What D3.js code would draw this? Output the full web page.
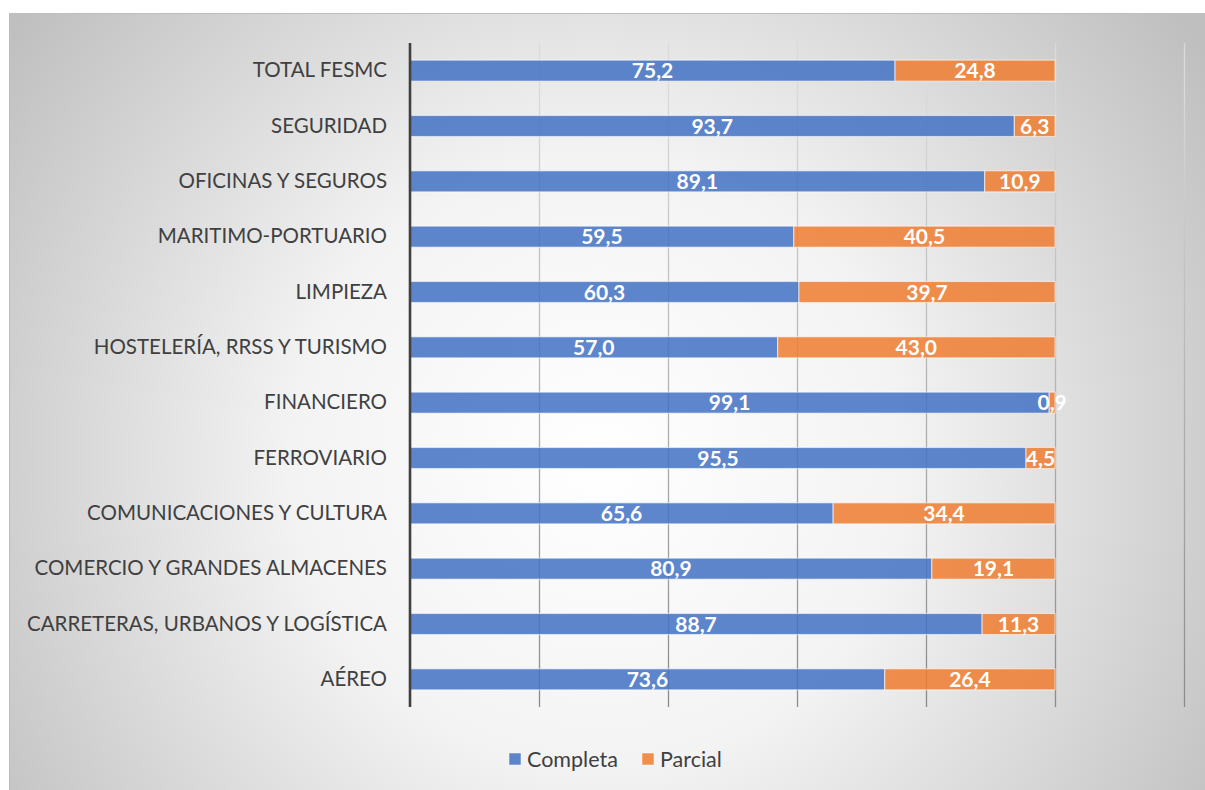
<!DOCTYPE html>
<html>
<head>
<meta charset="utf-8">
<script src="https://cdn.jsdelivr.net/npm/d3@7"></script>
<style>
	body { margin: 0; background: #fff; }
	svg { display: block; }
	text { font-family: Lato, "Open Sans", sans-serif; }
</style>
</head>
<body>
<svg width="1205" height="790"></svg>
<script>
// categories, top to bottom
var categories = [
	'TOTAL FESMC',
	'SEGURIDAD',
	'OFICINAS Y SEGUROS',
	'MARITIMO-PORTUARIO',
	'LIMPIEZA',
	'HOSTELERÍA, RRSS Y TURISMO',
	'FINANCIERO',
	'FERROVIARIO',
	'COMUNICACIONES Y CULTURA',
	'COMERCIO Y GRANDES ALMACENES',
	'CARRETERAS, URBANOS Y LOGÍSTICA',
	'AÉREO'
];
var completa = [75.2, 93.7, 89.1, 59.5, 60.3, 57.0, 99.1, 95.5, 65.6, 80.9, 88.7, 73.6];
var parcial  = [24.8, 6.3, 10.9, 40.5, 39.7, 43.0, 0.9, 4.5, 34.4, 19.1, 11.3, 26.4];
var series_names = ['Completa', 'Parcial'];
var x_ticks = [0, 20, 40, 60, 80, 100, 120];

var colors = { Completa: '#4472C4', Parcial: '#ED7D31' };

var svg = d3.select('svg');
var defs = svg.append('defs');

// background radial gradient (white center, grey edges)
var bg = defs.append('radialGradient')
	.attr('id', 'bg-grad')
	.attr('gradientUnits', 'userSpaceOnUse')
	.attr('cx', 600).attr('cy', 460).attr('r', 730);
bg.append('stop').attr('offset', 0).attr('stop-color', '#ffffff');
bg.append('stop').attr('offset', 0.42).attr('stop-color', '#f3f3f3');
bg.append('stop').attr('offset', 1).attr('stop-color', '#bfbfbf');

// gridline gradient, light at top, dark at bottom
var gg = defs.append('linearGradient')
	.attr('id', 'grid-grad')
	.attr('gradientUnits', 'userSpaceOnUse')
	.attr('x1', 0).attr('y1', 43).attr('x2', 0).attr('y2', 707);
gg.append('stop').attr('offset', 0).attr('stop-color', '#dadada');
gg.append('stop').attr('offset', 1).attr('stop-color', '#858585');

svg.append('rect')
	.attr('x', 9.5).attr('y', 13.5)
	.attr('width', 1210).attr('height', 790)
	.attr('fill', 'url(#bg-grad)')
	.attr('stroke', '#bdbdbd');

var margins = {top: 43, left: 410, right: 21, bottom: 83};
var width = 1205 - margins.left - margins.right;
var height = 790 - margins.top - margins.bottom;

var g = svg.append('g')
	.attr('transform', 'translate(' + margins.left + ',' + margins.top + ')');

var x = d3.scaleLinear().domain([0, 120]).range([0, width]);
var y = d3.scaleBand().domain(categories).range([0, height]).paddingInner(0.62).paddingOuter(0.31);

// vertical gridlines
g.append('g')
	.selectAll('line')
	.data(x_ticks.slice(1))
	.enter().append('line')
		.attr('x1', function(d){ return Math.round(x(d)) + 0.5; })
		.attr('x2', function(d){ return Math.round(x(d)) + 0.5; })
		.attr('y1', 0)
		.attr('y2', height)
		.attr('stroke', 'url(#grid-grad)')
		.attr('stroke-width', 1.3);

// stacked data
var rows = categories.map(function(c, i){
	return { cat: c, Completa: completa[i], Parcial: parcial[i] };
});
var stacked = d3.stack().keys(series_names)(rows);

var fmt = function(v){ return v.toFixed(1).replace('.', ','); };

var layer = g.append('g')
	.selectAll('g')
	.data(stacked)
	.enter().append('g')
		.attr('fill', function(d){ return colors[d.key]; });

layer.selectAll('rect')
	.data(function(d){ return d; })
	.enter().append('rect')
		.attr('x', function(d){ return x(d[0]); })
		.attr('y', function(d){ return y(d.data.cat); })
		.attr('width', function(d){ return x(d[1]) - x(d[0]); })
		.attr('height', y.bandwidth())
		.attr('fill-opacity', 0.86)
		.attr('stroke', '#ffffff')
		.attr('stroke-opacity', 0.55)
		.attr('stroke-width', 1.2);

layer.selectAll('text')
	.data(function(d){ return d; })
	.enter().append('text')
		.attr('x', function(d){ return (x(d[0]) + x(d[1])) / 2; })
		.attr('y', function(d){ return y(d.data.cat) + y.bandwidth() / 2; })
		.attr('dy', '0.36em')
		.attr('text-anchor', 'middle')
		.attr('fill', '#ffffff')
		.attr('font-weight', 'bold')
		.attr('font-size', 21)
		.text(function(d){ return fmt(d[1] - d[0]); });

// category axis
var yaxis = d3.axisLeft(y).tickSize(0).tickPadding(23);
var ya = g.append('g').call(yaxis);
ya.select('path').remove();
ya.selectAll('text')
	.attr('font-size', 20.5)
	.attr('fill', '#404040')
	.style('font-family', 'Lato, "Open Sans", sans-serif');

g.append('line')
	.attr('x1', 0).attr('x2', 0)
	.attr('y1', 0).attr('y2', height)
	.attr('stroke', '#404040')
	.attr('stroke-width', 2.6);

// legend
var legend = svg.append('g').attr('transform', 'translate(509,759)');
var lx = [0, 133];
series_names.forEach(function(s, i){
	var it = legend.append('g').attr('transform', 'translate(' + lx[i] + ',0)');
	it.append('rect')
		.attr('x', 0).attr('y', -6)
		.attr('width', 12).attr('height', 12)
		.attr('fill', colors[s]).attr('fill-opacity', 0.86)
		.attr('stroke', '#ffffff').attr('stroke-opacity', 0.5);
	it.append('text')
		.attr('x', 18).attr('y', 0).attr('dy', '0.36em')
		.attr('font-size', 21.5)
		.attr('fill', '#404040')
		.text(s);
});
</script>
</body>
</html>
